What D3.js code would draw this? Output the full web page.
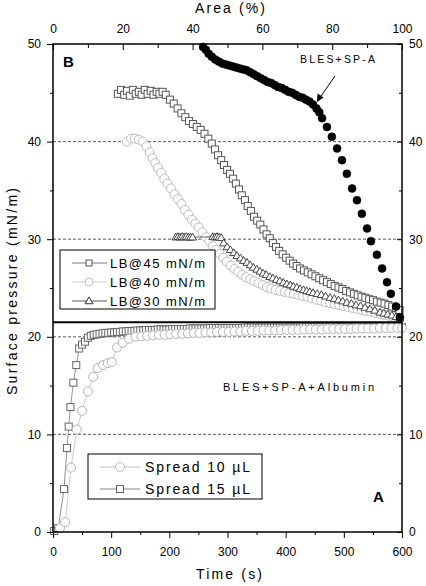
<!DOCTYPE html>
<html><head><meta charset="utf-8">
<script src="https://cdn.jsdelivr.net/npm/d3@7"></script>
<style>
html,body{margin:0;padding:0;background:#fff;}
svg{display:block;font-family:Arial,"Liberation Sans",Helvetica,sans-serif;}
</style></head><body>
<svg id="chart" width="426" height="586"></svg>
<script>
// ---------------- DATA ----------------
// Panel B (top): x = Area (%), y = surface pressure (mN/m)
const blesSPA = [[43.0,49.7],[43.8,49.4],[44.6,49.0],[45.5,48.7],[46.5,48.4],[47.5,48.2],[48.5,48.0],[49.5,47.9],[50.5,47.8],[51.5,47.7],[52.5,47.6],[53.5,47.5],[54.5,47.4],[55.5,47.3],[56.5,47.1],[57.5,46.9],[58.5,46.7],[59.5,46.5],[60.5,46.3],[61.5,46.1],[62.5,46.0],[63.5,45.8],[64.5,45.6],[65.5,45.5],[66.5,45.3],[67.5,45.1],[68.5,45.0],[69.5,44.8],[70.5,44.6],[71.5,44.5],[72.5,44.3],[73.5,44.1],[74.5,43.8],[75.5,43.4],[76.3,43.0],[77.1,42.4],[78.5,41.5],[79.9,40.5],[81.4,39.3],[82.8,38.1],[84.2,36.7],[85.7,35.2],[87.1,34.0],[88.5,32.6],[90.0,31.1],[91.1,29.8],[92.8,28.4],[94.3,27.0],[95.7,25.6],[96.8,24.4],[98.3,23.1],[99.4,22.0]];

const lb45 = [[18.6,44.9],[19.5,45.3],[20.4,44.8],[21.2,45.2],[22.0,44.7],[22.9,45.3],[23.7,44.9],[24.6,45.1],[25.4,44.8],[26.3,45.3],[27.1,44.9],[28.0,45.2],[28.8,44.8],[29.7,45.1],[30.5,44.9],[31.4,45.1],[32.3,44.8],[33.5,44.3],[34.6,43.9],[35.7,43.4],[36.8,42.9],[37.9,42.5],[39.0,42.1],[40.1,41.8],[41.2,41.5],[42.3,41.2],[43.4,40.8],[44.5,40.3],[45.5,39.8],[46.4,39.2],[47.3,38.6],[48.2,38.1],[49.0,37.6],[49.9,37.1],[50.7,36.7],[51.6,36.2],[52.4,35.7],[53.3,35.1],[54.1,34.5],[55.0,34.0],[55.8,33.4],[56.7,32.9],[57.6,32.3],[58.5,31.9],[59.4,31.5],[60.3,31.0],[61.2,30.5],[62.1,30.1],[63.0,29.6],[63.9,29.2],[64.8,28.8],[65.8,28.45],[66.8,28.1],[67.8,27.8],[68.8,27.5],[69.8,27.25],[70.8,27.0],[71.9,26.8],[73.0,26.6],[74.1,26.4],[75.2,26.2],[76.3,26.0],[77.4,25.8],[78.5,25.6],[79.6,25.4],[80.7,25.2],[81.8,25.05],[82.9,24.9],[84.0,24.7],[85.1,24.55],[86.2,24.4],[87.3,24.25],[88.4,24.1],[89.5,24.0],[90.6,23.85],[91.7,23.75],[92.8,23.6],[93.9,23.5],[95.0,23.4],[96.1,23.25],[97.2,23.1],[98.3,22.95],[99.3,22.75]];

const lb40 = [[21.2,40.0],[22.4,40.3],[23.5,40.3],[24.6,40.2],[25.8,40.0],[26.8,39.5],[27.7,38.9],[28.5,38.3],[29.3,37.8],[30.1,37.3],[31.0,36.8],[31.9,36.2],[32.8,35.7],[33.8,35.2],[34.8,34.6],[35.8,34.1],[36.8,33.6],[37.8,33.0],[38.8,32.5],[39.8,32.0],[40.8,31.6],[41.8,31.2],[42.8,30.7],[43.8,30.2],[44.8,29.8],[45.8,29.3],[46.8,28.9],[47.8,28.5],[48.8,28.1],[49.8,27.7],[50.9,27.3],[52.0,26.95],[53.1,26.65],[54.2,26.35],[55.3,26.1],[56.5,25.9],[57.7,25.7],[58.9,25.5],[60.1,25.3],[61.3,25.1],[62.5,24.95],[63.8,24.8],[65.1,24.7],[66.4,24.6],[67.7,24.5],[69.0,24.4],[70.3,24.3],[71.6,24.2],[72.9,24.1],[74.2,23.95],[75.5,23.8],[76.8,23.7],[78.1,23.55],[79.4,23.45],[80.7,23.35],[82.0,23.25],[83.3,23.15],[84.6,23.05],[85.9,22.95],[87.2,22.85],[88.5,22.75],[89.8,22.65],[91.1,22.55],[92.4,22.45],[93.7,22.35],[95.0,22.25],[96.3,22.15],[97.6,22.05],[98.9,21.95]];

const lb30 = [[35.2,30.2],[35.8,30.25],[36.4,30.2],[37.0,30.25],[37.6,30.2],[38.2,30.25],[38.8,30.2],[39.4,30.2],[40.0,30.2],[45.8,30.25],[46.4,30.2],[47.0,30.25],[47.6,30.2],[48.2,30.15],[48.9,29.6],[49.9,29.2],[50.8,28.9],[51.8,28.6],[52.7,28.3],[53.7,28.05],[54.6,27.8],[55.6,27.6],[56.5,27.35],[57.4,27.1],[58.4,26.9],[59.3,26.7],[60.2,26.5],[61.1,26.35],[62.1,26.15],[63.0,26.0],[64.0,25.85],[65.0,25.7],[66.0,25.55],[67.0,25.4],[68.0,25.3],[68.9,25.15],[69.9,25.05],[70.8,24.9],[71.8,24.8],[72.7,24.7],[73.6,24.6],[74.5,24.5],[75.7,24.4],[76.9,24.3],[78.1,24.15],[79.4,24.0],[80.6,23.9],[81.8,23.75],[83.0,23.65],[84.2,23.5],[85.5,23.4],[86.8,23.25],[88.1,23.15],[89.4,23.0],[90.8,22.85],[92.2,22.7],[93.7,22.5],[94.8,22.4],[95.9,22.3],[97.1,22.2],[98.3,22.05],[99.4,21.9]];

// Panel A (bottom): x = Time (s), y = surface pressure (mN/m)
const spread10 = [[12,0.4],[21,1.0],[31,6.6],[41,10.5],[50,12.4],[60,14.4],[69,15.9],[77,16.8],[86,17.1],[94,17.3],[101,17.4],[110,18.9],[120,19.4],[131,19.8],[142,20.0],[152,20.05],[162,20.1],[172,20.15],[182,20.2],[192,20.2],[202,20.25],[212,20.3],[222,20.3],[232,20.35],[242,20.4],[252,20.4],[262,20.45],[272,20.45],[282,20.5],[292,20.5],[302,20.5],[312,20.55],[322,20.55],[332,20.6],[342,20.6],[352,20.6],[362,20.65],[372,20.65],[382,20.65],[392,20.7],[402,20.7],[412,20.7],[422,20.7],[432,20.75],[442,20.75],[452,20.75],[462,20.75],[472,20.8],[482,20.8],[492,20.8],[502,20.8],[512,20.8],[522,20.85],[532,20.85],[542,20.85],[552,20.85],[562,20.9],[572,20.9],[582,20.9],[592,20.9],[600,20.9]];

const spread15 = [[2,0.1],[9,0.4],[19,4.4],[24,8.6],[27,10.8],[30,12.8],[35,15.3],[40,17.1],[45,18.8],[50,19.2],[55,19.5],[60,19.9],[65,20.1],
[70,20.2],[75,20.25],[80,20.3],[85,20.35],[90,20.4],[95,20.4],[100,20.45],
[105,20.45],[110,20.5],[115,20.5],[120,20.55],[125,20.55],[130,20.6],[135,20.6],[140,20.6],[145,20.65],[150,20.65],
[155,20.65],[160,20.7],[165,20.7],[170,20.7],[175,20.7],[180,20.75],[185,20.75],[190,20.75],[195,20.75],[200,20.75],
[205,20.8],[210,20.8],[215,20.8],[220,20.8],[225,20.8],[230,20.8],[235,20.85],[240,20.85],[245,20.85],[250,20.85],
[255,20.85],[260,20.85],[265,20.85],[270,20.9],[275,20.9],[280,20.9],[285,20.9],[290,20.9],[295,20.9],[300,20.9],
[305,20.9],[310,20.9],[315,20.9],[320,20.9],[325,20.9],[330,20.95],[335,20.95],[340,20.95],[345,20.95],[350,20.95],
[355,20.95],[360,20.95],[365,20.95],[370,20.95],[375,20.95],[380,20.95],[385,20.95],[390,20.95],[395,20.95],[400,20.95],
[405,20.95],[410,20.95],[415,20.95],[420,20.95],[425,20.95],[430,21.0],[435,21.0],[440,21.0],[445,21.0],[450,21.0],
[455,21.0],[460,21.0],[465,21.0],[470,21.0],[475,21.0],[480,21.0],[485,21.0],[490,21.0],[495,21.0],[500,21.0],
[505,21.0],[510,21.0],[515,21.0],[520,21.0],[525,21.0],[530,21.0],[535,21.0],[540,21.0],[545,21.0],[550,21.0],
[555,21.0],[560,21.0],[565,21.0],[570,21.0],[575,21.0],[580,21.0],[585,21.0],[590,21.0],[595,21.0],[600,21.0]];

// Axes / ticks / labels
const yMajor = [0,10,20,30,40,50];
const yMinor = [5,15,25,35,45];
const timeMajor = [0,100,200,300,400,500,600];
const timeMinor = [50,150,250,350,450,550];
const areaMajor = [0,20,40,60,80,100];
const areaMinor = [10,30,50,70,90];
const gridValues = [10,20,30,40];
const panelDivide = 21.5;
const legendTop = ["LB@45 mN/m","LB@40 mN/m","LB@30 mN/m"];
const legendBottom = ["Spread 10 \u00B5L","Spread 15 \u00B5L"];
const xTitleBottom = "Time (s)";
const xTitleTop = "Area (%)";
const yTitle = "Surface pressure (mN/m)";

// ---------------- DRAW ----------------
const FONT = 'Arial,"Liberation Sans",Helvetica,sans-serif';
const L=53, R=402, T=44, B=532;
const xT = d3.scaleLinear().domain([0,600]).range([L,R]);
const xA = d3.scaleLinear().domain([0,100]).range([L,R]);
const y  = d3.scaleLinear().domain([0,50]).range([B,T]);
const svg = d3.select("#chart");

// dashed grid
svg.append("g").selectAll("line").data(gridValues).join("line")
  .attr("x1",L).attr("x2",R).attr("y1",d=>y(d)).attr("y2",d=>y(d))
  .attr("stroke","#333").attr("stroke-width",0.8).attr("stroke-dasharray","3,2");

function marker(g, shape, size, color, fill, sw){
  if(shape==="square"){
    g.append("rect").attr("x",-size/2).attr("y",-size/2).attr("width",size).attr("height",size)
      .attr("fill",fill).attr("stroke",color).attr("stroke-width",sw);
  } else if(shape==="circle"){
    g.append("circle").attr("r",size/2).attr("fill",fill).attr("stroke",color).attr("stroke-width",sw);
  } else if(shape==="triangle"){
    const h=size*0.85;
    g.append("path").attr("d",`M0,${-h*0.6}L${size/2},${h*0.4}L${-size/2},${h*0.4}Z`)
      .attr("fill",fill).attr("stroke",color).attr("stroke-width",sw);
  }
}

function drawSeries(data, xs, o){
  const g = svg.append("g");
  if(o.line){
    g.append("path").datum(data)
      .attr("d", d3.line().x(d=>xs(d[0])).y(d=>y(d[1])))
      .attr("fill","none").attr("stroke",o.color).attr("stroke-width",0.7);
  }
  g.selectAll("g.m").data(data).join("g").attr("class","m")
    .attr("transform",d=>`translate(${xs(d[0])},${y(d[1])})`)
    .each(function(){ marker(d3.select(this), o.shape, o.size, o.color, o.fill, o.sw); });
}

// bottom panel
drawSeries(spread15, xT, {shape:"square", size:7, color:"#666", fill:"#fff", sw:1, line:true});
drawSeries(spread10, xT, {shape:"circle", size:9, color:"#b4b4b4", fill:"#fff", sw:1, line:true});
// top panel
drawSeries(lb40, xA, {shape:"circle", size:9, color:"#bdbdbd", fill:"#fff", sw:1, line:true});
drawSeries(lb30, xA, {shape:"triangle", size:8, color:"#333", fill:"#fff", sw:0.9, line:true});
drawSeries(lb45, xA, {shape:"square", size:7, color:"#555", fill:"#fff", sw:1, line:true});
drawSeries(blesSPA, xA, {shape:"circle", size:8, color:"#000", fill:"#000", sw:0.5, line:false});

// panel divider
svg.append("line").attr("x1",L).attr("x2",R).attr("y1",y(panelDivide)).attr("y2",y(panelDivide))
  .attr("stroke","#000").attr("stroke-width",2);

// axes
function styleAxis(g){
  g.select(".domain").remove();
  g.selectAll("line").attr("stroke","#000").attr("stroke-width",1);
  g.selectAll("text").attr("font-size",12).attr("font-family",FONT).attr("fill","#000");
}
const fmt = d3.format("d");
svg.append("g").attr("transform",`translate(${L},0)`)
  .call(d3.axisLeft(y).tickValues(yMajor).tickSize(6).tickPadding(6).tickFormat(fmt)).call(styleAxis);
svg.append("g").attr("transform",`translate(${L},0)`)
  .call(d3.axisLeft(y).tickValues(yMinor).tickSize(3).tickFormat("")).call(styleAxis);
svg.append("g").attr("transform",`translate(${R},0)`)
  .call(d3.axisRight(y).tickValues(yMajor).tickSize(-5).tickPadding(7).tickFormat(fmt)).call(styleAxis);
svg.append("g").attr("transform",`translate(${R},0)`)
  .call(d3.axisRight(y).tickValues(yMinor).tickSize(-3).tickFormat("")).call(styleAxis);
svg.append("g").attr("transform",`translate(0,${B})`)
  .call(d3.axisBottom(xT).tickValues(timeMajor).tickSize(6).tickPadding(9).tickFormat(fmt)).call(styleAxis);
svg.append("g").attr("transform",`translate(0,${B})`)
  .call(d3.axisBottom(xT).tickValues(timeMinor).tickSize(3).tickFormat("")).call(styleAxis);
svg.append("g").attr("transform",`translate(0,${T})`)
  .call(d3.axisTop(xA).tickValues(areaMajor).tickSize(-6).tickPadding(11).tickFormat(fmt)).call(styleAxis);
svg.append("g").attr("transform",`translate(0,${T})`)
  .call(d3.axisTop(xA).tickValues(areaMinor).tickSize(-4).tickFormat("")).call(styleAxis);

// frame
svg.append("rect").attr("x",L).attr("y",T).attr("width",R-L).attr("height",B-T)
  .attr("fill","none").attr("stroke","#000").attr("stroke-width",1.5);

// axis titles
svg.append("text").attr("x",196).attr("y",579).attr("font-size",14).attr("font-family",FONT)
  .attr("textLength",66).attr("lengthAdjust","spacing").text(xTitleBottom);
svg.append("text").attr("x",195).attr("y",13).attr("font-size",14).attr("font-family",FONT)
  .attr("textLength",70).attr("lengthAdjust","spacing").text(xTitleTop);
svg.append("text").attr("transform","translate(17,395) rotate(-90)").attr("font-size",14).attr("font-family",FONT)
  .attr("textLength",207).attr("lengthAdjust","spacing").text(yTitle);

// panel letters & annotations
svg.append("text").attr("x",63).attr("y",67).attr("font-size",15).attr("font-weight","bold").attr("font-family",FONT).text("B");
svg.append("text").attr("x",373).attr("y",502).attr("font-size",15).attr("font-weight","bold").attr("font-family",FONT).text("A");
svg.append("text").attr("x",300).attr("y",63).attr("font-size",10.5).attr("font-family",FONT)
  .attr("textLength",75).attr("lengthAdjust","spacing").text("BLES+SP-A");
svg.append("text").attr("x",223).attr("y",391).attr("font-size",11).attr("font-family",FONT)
  .attr("textLength",151).attr("lengthAdjust","spacing").text("BLES+SP-A+Albumin");
// arrow
svg.append("line").attr("x1",335).attr("y1",76).attr("x2",319).attr("y2",99).attr("stroke","#000").attr("stroke-width",1);
svg.append("path").attr("d","M317,102 L317.5,93.5 L323.5,97.5 Z").attr("fill","#000");

// legends
function legend(x0,y0,w,h,items,rows,lx1,lx2,mx,tx,fs,tl){
  const g=svg.append("g");
  g.append("rect").attr("x",x0).attr("y",y0).attr("width",w).attr("height",h)
    .attr("fill","#fff").attr("stroke","#000").attr("stroke-width",1);
  items.forEach((it,i)=>{
    const yy=rows[i];
    g.append("line").attr("x1",lx1).attr("x2",lx2).attr("y1",yy).attr("y2",yy).attr("stroke",it.color).attr("stroke-width",0.8);
    const m=g.append("g").attr("transform",`translate(${mx},${yy})`);
    marker(m,it.shape,it.size,it.color,"#fff",1);
    g.append("text").attr("x",tx).attr("y",yy).attr("dy","0.36em").attr("font-size",fs).attr("font-family",FONT)
      .attr("textLength",tl).attr("lengthAdjust","spacing").text(it.label);
  });
}
legend(60,250,155,59,[
  {label:legendTop[0],shape:"square",size:6,color:"#555"},
  {label:legendTop[1],shape:"circle",size:8,color:"#bdbdbd"},
  {label:legendTop[2],shape:"triangle",size:8,color:"#333"}
],[263,282,301],72,107,89,110,13,95);
legend(88,454,174,45,[
  {label:legendBottom[0],shape:"circle",size:9,color:"#b4b4b4"},
  {label:legendBottom[1],shape:"square",size:7,color:"#666"}
],[467,489],100,140,120,145,14,105);
</script>
</body></html>
